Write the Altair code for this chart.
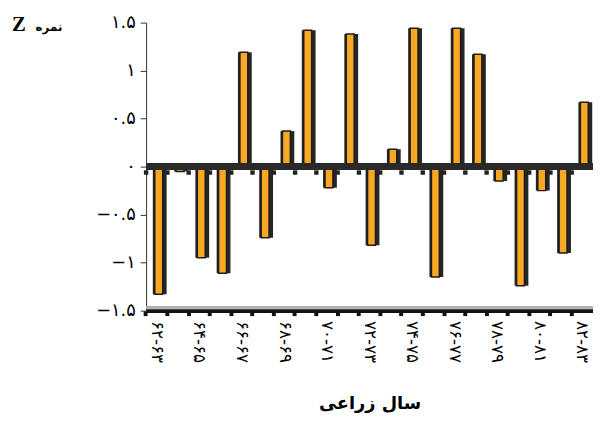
import altair as alt
import pandas as pd

years = ["۶۲-۶۳", "۶۳-۶۴", "۶۴-۶۵", "۶۵-۶۶", "۶۶-۶۷", "۶۷-۶۸", "۶۸-۶۹",
         "۶۹-۷۰", "۷۰-۷۱", "۷۱-۷۲", "۷۲-۷۳", "۷۳-۷۴", "۷۴-۷۵", "۷۵-۷۶",
         "۷۶-۷۷", "۷۷-۷۸", "۷۸-۷۹", "۷۹-۸۰", "۸۰-۸۱", "۸۱-۸۲", "۸۲-۸۳"]
z_scores = [-1.33, -0.05, -0.95, -1.11, 1.19, -0.74, 0.37, 1.42, -0.22, 1.38,
            -0.82, 0.18, 1.44, -1.15, 1.44, 1.17, -0.15, -1.24, -0.25, -0.90, 0.67]
shown_years = ["۶۲-۶۳", "۶۴-۶۵", "۶۶-۶۷", "۶۸-۶۹", "۷۰-۷۱", "۷۲-۷۳",
               "۷۴-۷۵", "۷۶-۷۷", "۷۸-۷۹", "۸۰-۸۱", "۸۲-۸۳"]
y_ticks = [-1.5, -1, -0.5, 0, 0.5, 1, 1.5]
y_tick_labels = ["−۱.۵", "−۱", "−۰.۵", "۰", "۰.۵", "۱", "۱.۵"]
x_title = "سال زراعی"
y_title_z = "Z"
y_title_word = "نمره"

df = pd.DataFrame({"year": years, "z": z_scores})

PLOT_W = 453
HALF_BAND = PLOT_W / len(years) / 2

# label expressions built from the arrays
y_expr = "''"
for v, lab in zip(y_ticks, y_tick_labels):
    y_expr = f"(abs(datum.value - ({v})) < 0.001 ? '{lab}' : {y_expr})"
shown_list = "[" + ",".join(f"'{s}'" for s in shown_years) + "]"
x_expr = f"indexof({shown_list}, datum.value) >= 0 ? datum.value : ''"

x_axis = alt.Axis(
    bandPosition=0, labelAngle=90, labelExpr=x_expr,
    labelFont="DejaVu Sans", labelFontSize=17, labelColor="#000",
    labelPadding=5, labelAlign="left", labelBaseline="middle",
    title=x_title, titleFont="DejaVu Sans", titleFontSize=18,
    titleFontWeight="bold", titleColor="#000", titleY=94,
    titleBaseline="middle",
    domainWidth=4, domainColor="#111", tickSize=5, tickWidth=4,
    tickColor="#111", grid=False,
)
x_scale = alt.Scale(paddingInner=0, paddingOuter=0)
x_enc = alt.X("year:N", sort=years, scale=x_scale, axis=x_axis)

y_scale = alt.Scale(domain=[-1.5, 1.5], nice=False, zero=False)
y_axis = alt.Axis(
    values=y_ticks, labelExpr=y_expr, title=None, grid=False,
    labelFont="DejaVu Sans", labelFontSize=18, labelColor="#000",
    labelPadding=5, domainColor="#333", tickColor="#333", tickSize=6,
)

base = alt.Chart(df)

gray = base.mark_rule(color="#b0b0b0", strokeWidth=2, yOffset=-3.5).encode(
    y=alt.datum(-1.5, scale=y_scale, axis=y_axis)
)
shadow = base.mark_bar(color="#262626", size=14, xOffset=3).encode(
    x=x_enc, y=alt.Y("z:Q", scale=y_scale, axis=y_axis)
)
front = base.mark_bar(fill="#F9A825", stroke="#1c1c1c", strokeWidth=1.5,
                      size=8, xOffset=2).encode(
    x=x_enc, y=alt.Y("z:Q", scale=y_scale, axis=y_axis)
)
zero = base.mark_rule(color="#2a2a2a", strokeWidth=6).encode(y=alt.datum(0))
dots = base.mark_point(shape="square", filled=True, size=20, color="#222",
                       opacity=1, yOffset=6, xOffset=-HALF_BAND).encode(
    x=x_enc,
    y=alt.datum(0),
)

t_z = alt.Chart(pd.DataFrame({"t": [y_title_z]})).mark_text(
    font="Liberation Serif", fontSize=21, fontWeight="bold", align="left",
    baseline="middle", color="#000"
).encode(text="t:N", x=alt.value(-136), y=alt.value(3))
t_w = alt.Chart(pd.DataFrame({"t": [y_title_word]})).mark_text(
    font="DejaVu Sans", fontSize=12, fontWeight="bold", align="left",
    baseline="middle", color="#000"
).encode(text="t:N", x=alt.value(-112), y=alt.value(5))

chart = alt.layer(gray, shadow, front, zero, dots, t_z, t_w).properties(
    width=PLOT_W, height=292,
    autosize=alt.AutoSizeParams(type="none"),
    padding={"left": 140, "top": 12, "right": 0, "bottom": 104},
    background="white",
).configure_view(stroke=None)

chart.save("out.html", embed_options={"renderer": "svg", "actions": False})
